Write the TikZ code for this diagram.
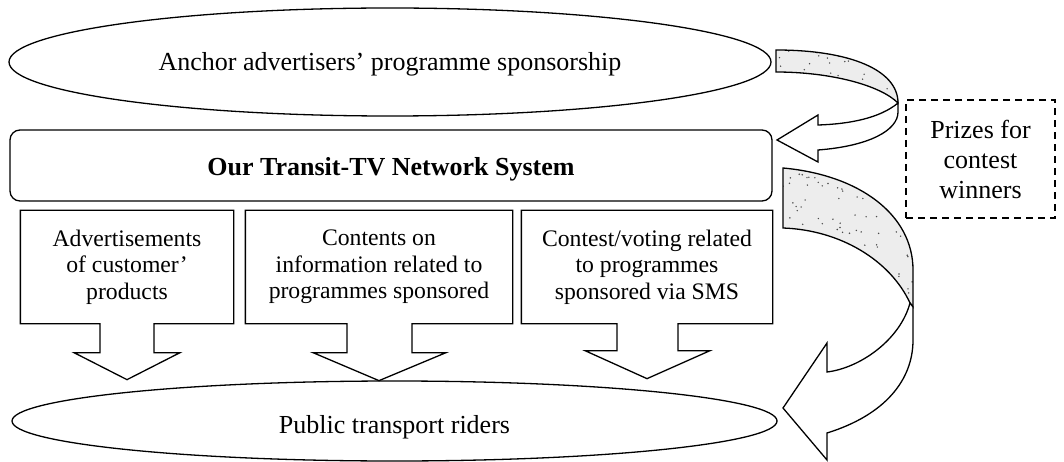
\documentclass[tikz,border=0pt]{standalone}
\usepackage{fontspec}
\setmainfont{Liberation Serif}
\usetikzlibrary{shapes.geometric,calc}
\begin{document}
\begin{tikzpicture}[x=1pt,y=-1pt,
  line width=1.3pt, line join=miter,
  oval/.style={ellipse, draw, inner sep=0pt, font=\fontsize{26}{30}\selectfont},
  netbox/.style={rectangle, rounded corners=10pt, draw, inner sep=0pt, font=\fontsize{26}{30}\selectfont\bfseries},
  callbox/.style={rectangle, inner sep=0pt, align=center, minimum height=112pt, font=\fontsize{23.7}{26.5}\selectfont},
  callout/.style={draw, fill=white},
  prize/.style={rectangle, draw, dash pattern=on 7pt off 5pt, line width=1.1pt, inner sep=0pt, align=center, minimum width=149pt, minimum height=118pt, font=\fontsize{26}{30}\selectfont},
  bandfill/.style={fill=black!7},
  speck/.style={fill=black!70},
  ribbon/.style={draw, fill=white}]
\useasboundingbox (0,0) rectangle (1064,462);
\pgfmathsetseed{7}

% main nodes
\node[oval, minimum width=762pt, minimum height=108pt] (anchor) at (390,62) {\raisebox{0pt}[\dimexpr\height+4pt\relax]{Anchor advertisers’ programme sponsorship}};
\node[netbox, minimum width=762pt, minimum height=71pt] (net) at (391,165.5) {\raisebox{0pt}[\dimexpr\height+8pt\relax]{Our Transit-TV Network System}};
\node[oval, minimum width=765pt, minimum height=80pt] (riders) at (394.5,421) {\raisebox{0pt}[\dimexpr\height+12pt\relax]{Public transport riders}};
\node[prize] (prize) at (980.5,159) {Prizes for\\contest\\winners};

% callout boxes with down arrows
\node[callbox, minimum width=212pt] (b1) at (127,267) {};
\node[callbox, minimum width=266pt] (b2) at (379,267) {};
\node[callbox, minimum width=250pt] (b3) at (647,267) {};

\draw[callout] (b1.north west) -- (b1.north east) -- (b1.south east)
  -- ($(b1.south)+(27,0)$) -- ($(b1.south)+(27,29)$) -- ($(b1.south)+(53,29)$)
  -- ($(b1.south)+(0,56)$) -- ($(b1.south)+(-53,29)$) -- ($(b1.south)+(-27,29)$)
  -- ($(b1.south)+(-27,0)$) -- (b1.south west) -- cycle;
\draw[callout] (b2.north west) -- (b2.north east) -- (b2.south east)
  -- ($(b2.south)+(33,0)$) -- ($(b2.south)+(33,29)$) -- ($(b2.south)+(67,29)$)
  -- ($(b2.south)+(0,57)$) -- ($(b2.south)+(-66,29)$) -- ($(b2.south)+(-32,29)$)
  -- ($(b2.south)+(-32,0)$) -- (b2.south west) -- cycle;
\draw[callout] (b3.north west) -- (b3.north east) -- (b3.south east)
  -- ($(b3.south)+(31,0)$) -- ($(b3.south)+(31,27)$) -- ($(b3.south)+(63,27)$)
  -- ($(b3.south)+(0,55)$) -- ($(b3.south)+(-62,27)$) -- ($(b3.south)+(-30,27)$)
  -- ($(b3.south)+(-30,0)$) -- (b3.south west) -- cycle;

\node[callbox, minimum width=212pt] (t1) at (b1) {Advertisements\\of customer’\\products};
\node[callbox, minimum width=266pt] (t2) at (b2) {Contents on\\information related to\\programmes sponsored};
\node[callbox, minimum width=250pt] (t3) at (b3) {Contest/voting related\\to programmes\\sponsored via SMS};

% top curved arrow (anchor -> network)
\path[bandfill] (776,50) .. controls (850,50) and (898,70) .. (898,103)
  .. controls (880,85) and (830,72) .. (776,72) -- cycle;
\begin{scope}
\clip (776,50) .. controls (850,50) and (898,70) .. (898,103)
  .. controls (880,85) and (830,72) .. (776,72) -- cycle;
\foreach \i in {1,...,45} {\fill[speck] ({776+122*rnd},{50+53*rnd}) circle (0.8pt);}
\end{scope}
\draw (776,50) .. controls (850,50) and (898,70) .. (898,103)
  .. controls (880,85) and (830,72) .. (776,72) -- cycle;
\draw[ribbon] (898,103) .. controls (880,118) and (850,124) .. (818,125)
  -- (818,115) -- (777,140) -- (818,162) -- (818,150)
  .. controls (870,146) and (898,130) .. (898,112) -- cycle;

% lower curved arrow (network -> riders)
\path[bandfill] (783,168) .. controls (860,175) and (913,215) .. (913,270) -- (913,307)
  -- (910,303) .. controls (890,260) and (840,230) .. (783,228) -- cycle;
\begin{scope}
\clip (783,168) .. controls (860,175) and (913,215) .. (913,270) -- (913,307)
  -- (910,303) .. controls (890,260) and (840,230) .. (783,228) -- cycle;
\foreach \i in {1,...,110} {\fill[speck] ({783+130*rnd},{168+139*rnd}) circle (0.8pt);}
\end{scope}
\draw (783,168) .. controls (860,175) and (913,215) .. (913,270) -- (913,307)
  -- (910,303) .. controls (890,260) and (840,230) .. (783,228) -- cycle;
\draw[ribbon] (910,303) .. controls (900,340) and (860,368) .. (827,372)
  -- (827,343) -- (783,408) -- (827,460) -- (827,433)
  .. controls (885,415) and (913,380) .. (913,340) -- (913,307) -- cycle;
\end{tikzpicture}
\end{document}
